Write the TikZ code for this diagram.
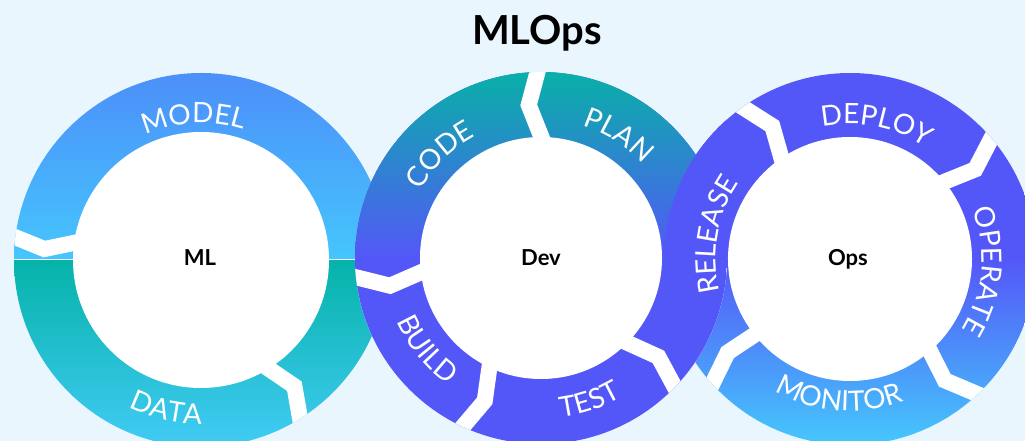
\documentclass[tikz,border=0pt]{standalone}
\usepackage{fontspec}
\setmainfont{Lato}
\usetikzlibrary{decorations.text}

\definecolor{bgblue}{HTML}{E9F6FE}
\definecolor{mlblue}{HTML}{4C8FF9}
\definecolor{mlsky}{HTML}{45C6FD}
\definecolor{mlteal}{HTML}{05B3A9}
\definecolor{mlcyan}{HTML}{42CBF6}
\definecolor{devteal}{HTML}{08B0A8}
\definecolor{opsviolet}{HTML}{5457F8}
\definecolor{opssky}{HTML}{45C8FC}

\tikzset{
  chevron/.style={white, line width=16pt, line join=miter},
  stagetext/.style={decorate, decoration={text along path, text align=center,
      text color=white, text={|\fontsize{28}{28}\selectfont|#1}}},
  hublabel/.style={font=\fontsize{22}{22}\selectfont\bfseries, anchor=base},
}

\begin{document}
\begin{tikzpicture}[x=1pt, y=1pt]
        % Background
        \fill[bgblue] (0,0) rectangle (1025,441);
        \useasboundingbox (0,0) rectangle (1025,441);

        % Centres
        \coordinate (ml) at (201,181);
        \coordinate (dev) at (541,183);
        \coordinate (ops) at (850,182);

        % ML ring
        \begin{scope}[shift={(ml)}]
            \fill[white] (0,0) circle (187);
            \begin{scope}
                \clip (0,0) circle (187);
                \shade[top color=mlblue, bottom color=mlsky] (-187,0) rectangle (187,187);
                \shade[top color=mlteal, bottom color=mlcyan] (-187,-187) rectangle (187,0);
                \draw[white, line width=1pt] (-187,0) -- (187,0);
                \foreach \outang/\tipang/\inang in {172/176/170, -59.5/-53.5/-61}
                    \draw[chevron] (\outang:200) -- (\tipang:157) -- (\inang:115);
            \end{scope}
            \fill[white] (0,0) circle (128);
            \path[stagetext=MODEL] (143:137) arc[start angle=143, end angle=43, radius=137];
            \path[stagetext=DATA] (207:164) arc[start angle=207, end angle=307, radius=164];
        \end{scope}

        % Ops ring (Dev lies over it at the bottom)
        \begin{scope}[shift={(ops)}]
            \fill[white] (0,0) circle (186);
            \begin{scope}
                \clip (0,0) circle (186);
                \fill[opsviolet] (-186,0) rectangle (186,186);
                \shade[top color=opsviolet, bottom color=opssky] (-186,-186) rectangle (186,0);
                \foreach \outang/\tipang/\inang in {126.8/120.3/126.5, 42/35.6/41.4, -45/-52/-47.3, 223.7/217.4/219}
                    \draw[chevron] (\outang:199) -- (\tipang:154) -- (\inang:109);
            \end{scope}
            \fill[white] (0,0) circle (122);
            \path[stagetext=DEPLOY] (128.9:135) arc[start angle=128.9, end angle=28.9, radius=135];
            \path[stagetext=OPERATE] (44.8:132) arc[start angle=44.8, end angle=-55.2, radius=132];
            \path[stagetext=MONITOR] (215.5:152) arc[start angle=215.5, end angle=315.5, radius=152];
        \end{scope}

        % Dev ring
        \begin{scope}[shift={(dev)}]
            \fill[white] (0,0) circle (186);
            \begin{scope}
                \clip (0,0) circle (186);
                \fill[opsviolet] (-186,-186) rectangle (186,186);
                \shade[top color=devteal, bottom color=opsviolet] (-186,0) rectangle (186,186);
                \foreach \outang/\tipang/\inang in {90/94.6/87, 184.6/190.4/184.7, 244.1/248.5/242.6, 314.8/319.9/313}
                    \draw[chevron] (\outang:199) -- (\tipang:153.5) -- (\inang:108);
            \end{scope}
            \fill[white] (0,0) circle (121);
            \path[stagetext=CODE] (184.5:138) arc[start angle=184.5, end angle=84.5, radius=138];
            \path[stagetext=PLAN] (107.6:138.5) arc[start angle=107.6, end angle=7.6, radius=138.5];
            \path[stagetext=BUILD] (168.7:157.5) arc[start angle=168.7, end angle=268.7, radius=157.5];
            \path[stagetext=TEST] (238.7:160.5) arc[start angle=238.7, end angle=338.7, radius=160.5];
        \end{scope}

        % Release: Ops ring lies over Dev at the top
        \begin{scope}
            \clip (ops) circle (186);
            \clip (640,182) rectangle (727,441);
            \fill[opsviolet] (640,182) rectangle (727,441);
        \end{scope}
        \begin{scope}[shift={(ops)}]
            \path[stagetext=RELEASE] (219.7:134.5) arc[start angle=219.7, end angle=119.7, radius=134.5];
        \end{scope}

        % Hubs
        \node[hublabel] (mlhub) at (200,175) {ML};
        \node[hublabel] (devhub) at (541,175) {Dev};
        \node[hublabel] (opshub) at (848,175) {Ops};

        % Title
        \node[font=\fontsize{40}{40}\selectfont\bfseries, anchor=base] (title) at (537,396) {MLOps};
\end{tikzpicture}
\end{document}
